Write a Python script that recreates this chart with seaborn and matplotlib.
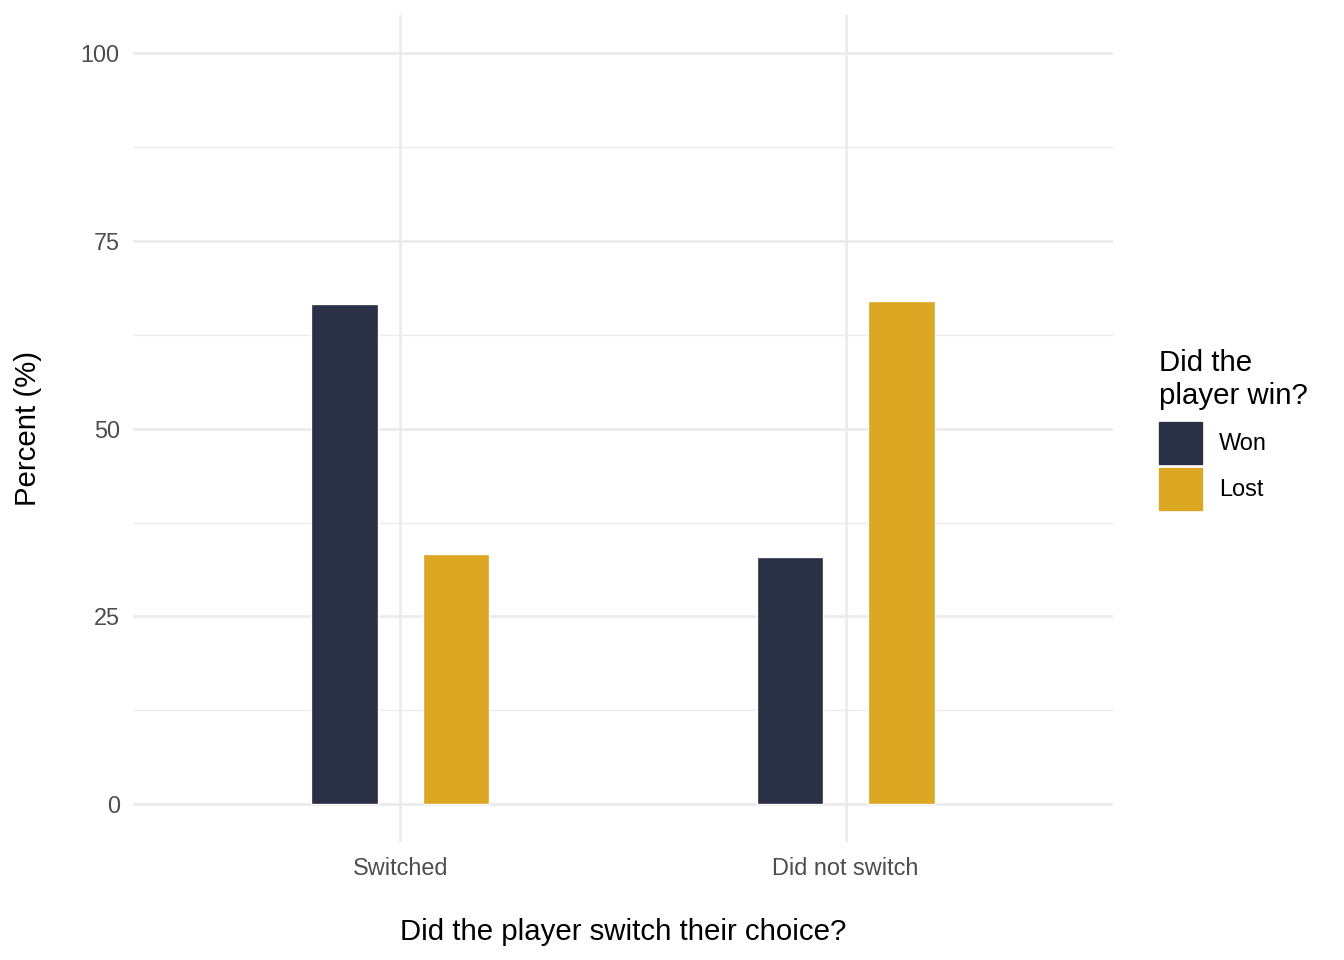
import matplotlib
matplotlib.use('Agg')
import matplotlib.pyplot as plt
import matplotlib.patches as mpatches
import seaborn as sns
import pandas as pd

# data
choices = ['Switched', 'Switched', 'Did not switch', 'Did not switch']
outcomes = ['Won', 'Lost', 'Won', 'Lost']
percents = [66.6, 33.3, 32.9, 67.0]

df = pd.DataFrame({'choice': choices, 'outcome': outcomes, 'percent': percents})
palette = {'Won': '#2a3045', 'Lost': '#dca722'}

sns.set_style('whitegrid')
plt.rcParams['font.family'] = ['Liberation Sans', 'DejaVu Sans']

fig = plt.figure(figsize=(14, 10), dpi=96)
ax = fig.add_axes([0.099, 0.123, 0.729, 0.861])

sns.barplot(data=df, x='choice', y='percent', hue='outcome',
            order=['Switched', 'Did not switch'], hue_order=['Won', 'Lost'],
            palette=palette, width=0.5, gap=0.4, saturation=1,
            legend=False, ax=ax)

ax.set_xlim(-0.6, 1.6)
ax.set_ylim(-5, 105)
ax.set_yticks([0, 25, 50, 75, 100])
ax.set_yticks([12.5, 37.5, 62.5, 87.5], minor=True)
ax.grid(True, which='major', color='#ebebeb', linewidth=2)
ax.grid(True, which='minor', axis='y', color='#ebebeb', linewidth=1)
ax.set_axisbelow(True)
for s in ax.spines.values():
    s.set_visible(False)
ax.tick_params(axis='both', which='both', length=0, labelsize=17.6,
               labelcolor='#4d4d4d', pad=10)
ax.tick_params(axis='x', pad=11.5)
ax.set_xlabel('Did the player switch their choice?', fontsize=22,
              labelpad=28, color='black')
ax.set_ylabel('Percent (%)', fontsize=22, labelpad=29, color='black')

handles = [mpatches.Patch(color=palette[k], label=k) for k in ['Won', 'Lost']]
leg = fig.legend(handles=handles, title='Did the\nplayer win?',
                 loc='center left', bbox_to_anchor=(0.8626, 0.5526),
                 frameon=False, fontsize=17.6, title_fontsize=22,
                 handlelength=1.8, handleheight=2.38, labelspacing=0.17,
                 handletextpad=0.75, borderaxespad=0, borderpad=0)
leg._legend_box.align = 'left'
leg._legend_box.sep = 9
leg.get_title().set_color('black')
for t in leg.get_texts():
    t.set_color('black')

fig.savefig('out.png', dpi=96)
